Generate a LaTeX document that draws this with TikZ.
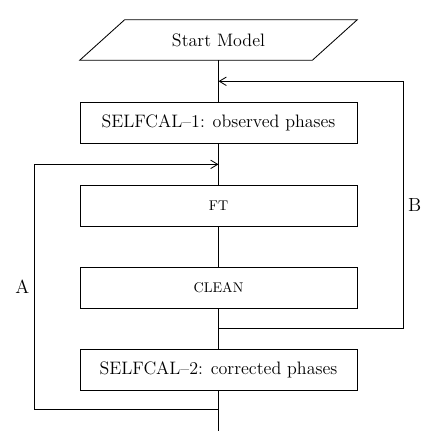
\documentclass[tikz,border=0pt]{standalone}
\usepackage{tikz}
\usetikzlibrary{arrows.meta,positioning,calc}
\tikzset{
  stepbox/.style={draw, line width=0.6pt, minimum width=6.925cm, minimum height=1.02cm, inner sep=0pt, font=\fontsize{12.8}{14}\selectfont},
  smallbox/.style={stepbox, font=\fontsize{10}{12}\selectfont},
  startbox/.style={minimum width=4.675cm, minimum height=1cm, inner sep=0pt, font=\fontsize{12.8}{14}\selectfont},
  link/.style={line width=0.6pt},
  flow/.style={-{Straight Barb[length=5pt,width=6pt]}, line width=0.6pt},
  looplab/.style={font=\fontsize{13.5}{15}\selectfont, inner sep=3pt},
}

\begin{document}
\begin{tikzpicture}[x=0.025cm,y=0.025cm]
  \useasboundingbox (0,0) rectangle (436,440);
  % steps
  \node[startbox] (start) at (218.5,400) {Start Model};
  \draw[link] ($(start.south west)+(-45,0)$) -- (start.south east)
    -- ($(start.north east)+(45,0)$) -- (start.north west) -- cycle;
  \node[stepbox, below=1.05cm of start] (cal1) {SELFCAL--1: observed phases};
  \node[smallbox, below=1.02cm of cal1] (ft) {FT};
  \node[smallbox, below=1.02cm of ft] (clean) {CLEAN};
  \node[stepbox, below=1.0cm of clean] (cal2) {SELFCAL--2: corrected phases};

  % joins and splits of the two loops
  \coordinate (Bjoin) at ($(start.south)!0.5!(cal1.north)$);
  \coordinate (Ajoin) at ($(cal1.south)!0.5!(ft.north)$);
  \coordinate (Bsplit) at ($(clean.south)!0.5!(cal2.north)$);
  \coordinate (Asplit) at ($(cal2.south)+(0,-19)$);
  \coordinate (end) at ($(cal2.south)+(0,-40)$);

  \draw[link] (start.south) -- (cal1);
  \draw[link] (cal1) -- (ft);
  \draw[link] (ft) -- (clean);
  \draw[link] (clean) -- (cal2);
  \draw[link] (cal2) -- (end);

  % loops
  \draw[flow] (Bsplit) -- ++(185,0) |- (Bjoin) node[pos=0.25, right, looplab] {B};
  \draw[flow] (Asplit) -- ++(-184.5,0) |- (Ajoin) node[pos=0.25, left, looplab] {A};
\end{tikzpicture}
\end{document}
